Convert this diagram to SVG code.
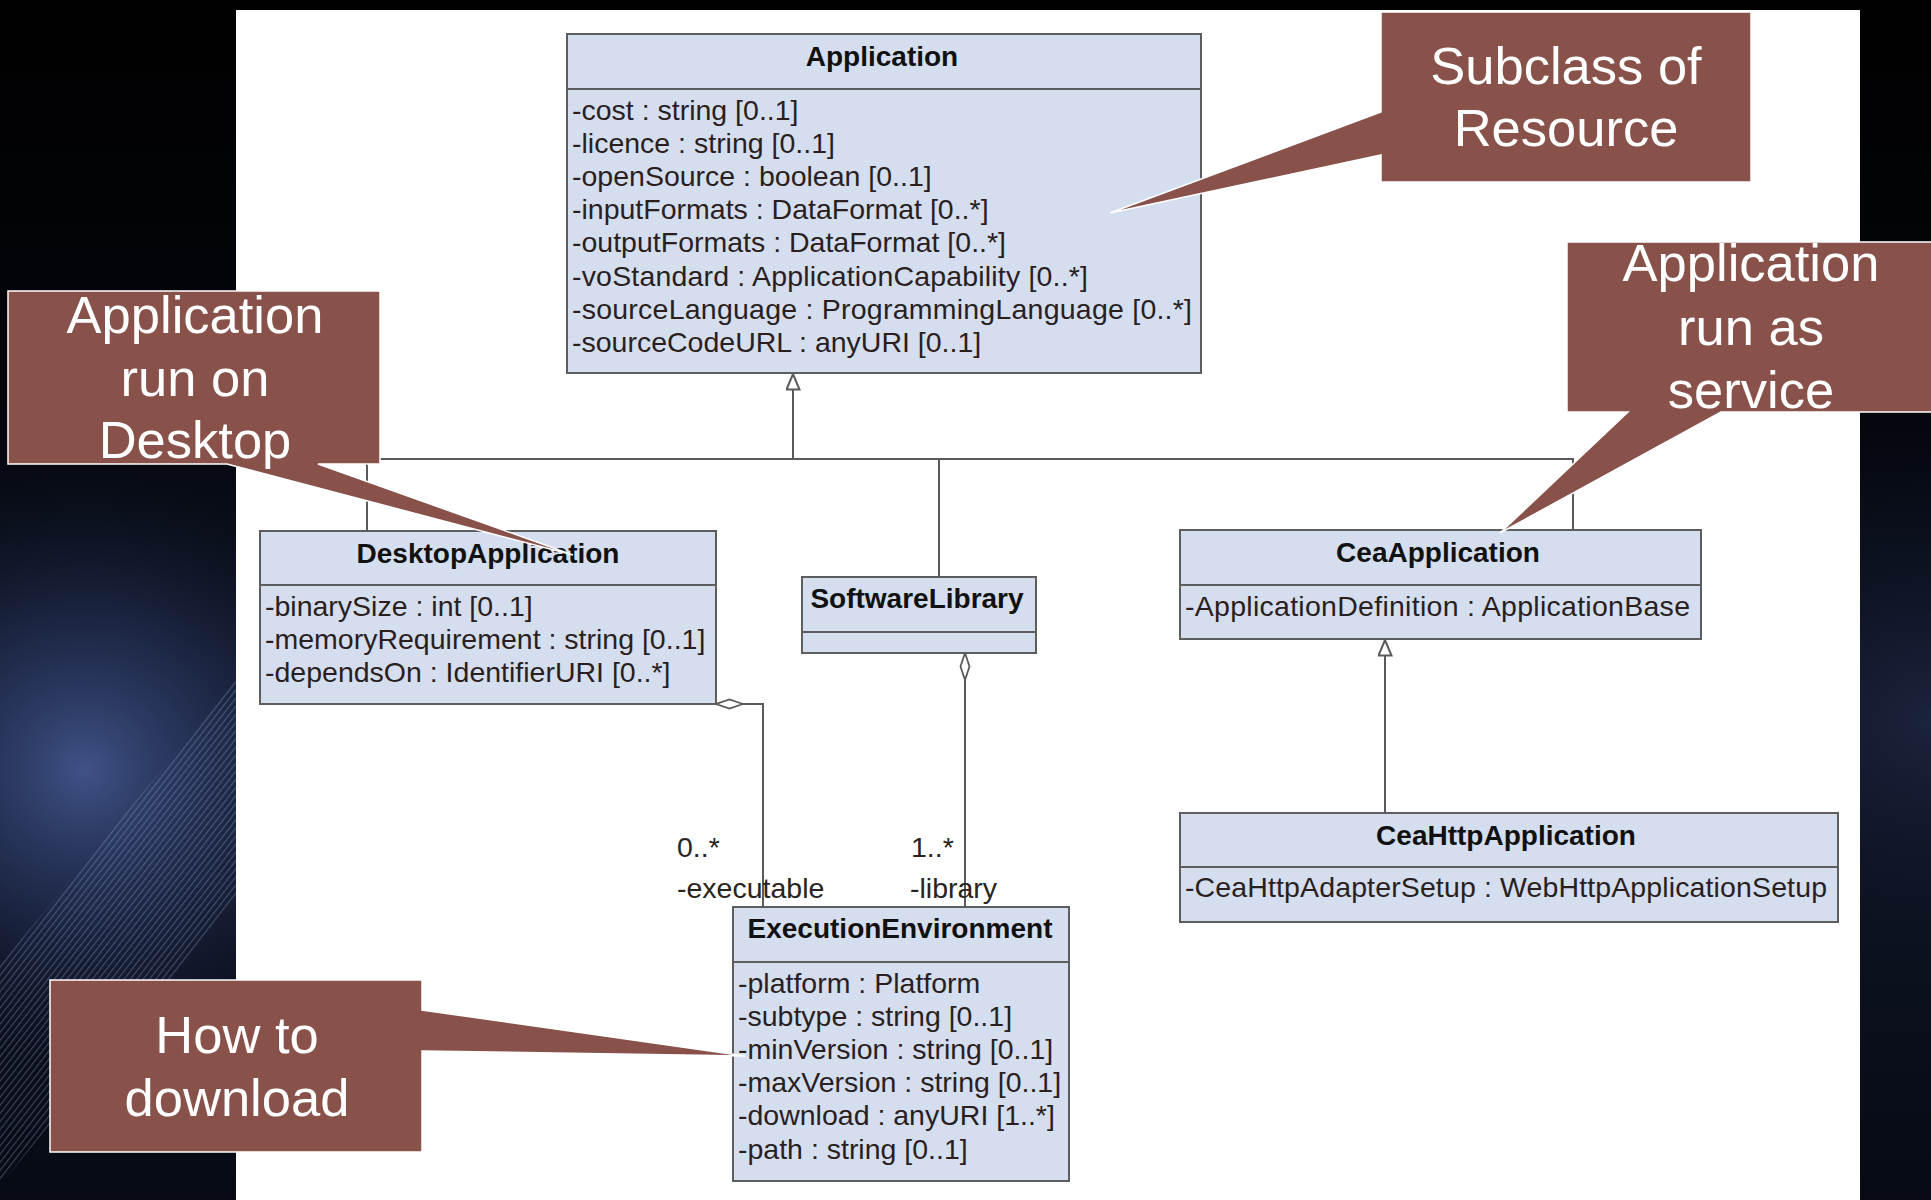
<svg xmlns="http://www.w3.org/2000/svg" width="1931" height="1200" viewBox="0 0 1931 1200">
  <style>
    .cls { fill: #d5deee; stroke: #5e5e5e; stroke-width: 2; }
    .sep { stroke: #5e5e5e; stroke-width: 2; }
    .title { font-family: "Liberation Sans", Arial, sans-serif; font-weight: bold; font-size: 28px; fill: #111111; text-anchor: middle; }
    .attr { font-family: "Liberation Sans", Arial, sans-serif; font-size: 28.5px; fill: #2a1e1e; }
    .role { font-family: "Liberation Sans", Arial, sans-serif; font-size: 28.5px; fill: #2a2420; }
    .conn { fill: none; stroke: #5a5a5a; stroke-width: 2; }
    .note { fill: #88524a; stroke: #ffffff; stroke-width: 1.5; }
    .note-text { font-family: "Liberation Sans", Arial, sans-serif; font-size: 52.5px; fill: #ffffff; text-anchor: middle; }
  </style>
  <defs>
    <linearGradient id="bgShade" x1="0" y1="0" x2="0" y2="1">
      <stop offset="0" stop-color="#000000"/>
      <stop offset="0.35" stop-color="#05070e"/>
      <stop offset="0.6" stop-color="#111829"/>
      <stop offset="1" stop-color="#070a14"/>
    </linearGradient>
    <radialGradient id="glowLeft" cx="85" cy="770" r="300" gradientUnits="userSpaceOnUse">
      <stop offset="0" stop-color="#42558c" stop-opacity="0.95"/>
      <stop offset="0.5" stop-color="#26335a" stop-opacity="0.6"/>
      <stop offset="1" stop-color="#121a30" stop-opacity="0"/>
    </radialGradient>
    <radialGradient id="glowRight" cx="1931" cy="720" r="260" gradientUnits="userSpaceOnUse">
      <stop offset="0" stop-color="#1c2540" stop-opacity="0.9"/>
      <stop offset="1" stop-color="#0b1020" stop-opacity="0"/>
    </radialGradient>
    <pattern id="stripes" width="12" height="5" patternUnits="userSpaceOnUse" patternTransform="rotate(-52)">
      <rect x="0" y="0" width="12" height="1.2" fill="#9fb4e0"/>
    </pattern>
    <marker id="gen" viewBox="0 0 17 15" refX="16.5" refY="7.5" markerWidth="17" markerHeight="15" markerUnits="userSpaceOnUse" orient="auto">
      <path d="M1,1 L16.5,7.5 L1,14 Z" fill="#ffffff" stroke="#5a5a5a" stroke-width="2"/>
    </marker>
    <marker id="agg" viewBox="0 0 28 12" refX="0.5" refY="6" markerWidth="28" markerHeight="12" markerUnits="userSpaceOnUse" orient="auto">
      <path d="M0.5,6 L14,1.5 L27.5,6 L14,10.5 Z" fill="#ffffff" stroke="#5a5a5a" stroke-width="1.8"/>
    </marker>
  </defs>

  <!-- slide background -->
  <g id="background">
    <rect x="0" y="0" width="1931" height="1200" fill="url(#bgShade)"/>
    <rect x="0" y="400" width="400" height="800" fill="url(#glowLeft)"/>
    <rect x="1800" y="400" width="131" height="800" fill="url(#glowRight)"/>
    <polygon points="236,680 236,900 0,1185 0,965" fill="url(#stripes)" opacity="0.32"/>
    <rect x="236" y="10" width="1624" height="1190" fill="#ffffff"/>
  </g>

  <!-- classes -->
  <g id="Application">
    <rect class="cls" x="567" y="34" width="634" height="339"/>
    <line class="sep" x1="567" y1="89" x2="1201" y2="89"/>
    <text class="title" x="882" y="66">Application</text>
    <text class="attr" x="572" y="119.5">-cost : string [0..1]</text>
    <text class="attr" x="572" y="152.7">-licence : string [0..1]</text>
    <text class="attr" x="572" y="185.9">-openSource : boolean [0..1]</text>
    <text class="attr" x="572" y="219.1">-inputFormats : DataFormat [0..*]</text>
    <text class="attr" x="572" y="252.3">-outputFormats : DataFormat [0..*]</text>
    <text class="attr" x="572" y="285.5" textLength="516" lengthAdjust="spacing">-voStandard : ApplicationCapability [0..*]</text>
    <text class="attr" x="572" y="318.7" textLength="620" lengthAdjust="spacing">-sourceLanguage : ProgrammingLanguage [0..*]</text>
    <text class="attr" x="572" y="351.9">-sourceCodeURL : anyURI [0..1]</text>
  </g>

  <g id="DesktopApplication">
    <rect class="cls" x="260" y="531" width="456" height="173"/>
    <line class="sep" x1="260" y1="585" x2="716" y2="585"/>
    <text class="title" x="488" y="563">DesktopApplication</text>
    <text class="attr" x="265" y="615.5">-binarySize : int [0..1]</text>
    <text class="attr" x="265" y="648.7">-memoryRequirement : string [0..1]</text>
    <text class="attr" x="265" y="681.9">-dependsOn : IdentifierURI [0..*]</text>
  </g>

  <g id="SoftwareLibrary">
    <rect class="cls" x="802" y="577" width="234" height="76"/>
    <line class="sep" x1="802" y1="632" x2="1036" y2="632"/>
    <text class="title" x="917" y="608">SoftwareLibrary</text>
  </g>

  <g id="CeaApplication">
    <rect class="cls" x="1180" y="530" width="521" height="109"/>
    <line class="sep" x1="1180" y1="585" x2="1701" y2="585"/>
    <text class="title" x="1438" y="562">CeaApplication</text>
    <text class="attr" x="1185" y="615.5" textLength="505" lengthAdjust="spacing">-ApplicationDefinition : ApplicationBase</text>
  </g>

  <g id="CeaHttpApplication">
    <rect class="cls" x="1180" y="813" width="658" height="109"/>
    <line class="sep" x1="1180" y1="867" x2="1838" y2="867"/>
    <text class="title" x="1506" y="845">CeaHttpApplication</text>
    <text class="attr" x="1185" y="897" textLength="642" lengthAdjust="spacing">-CeaHttpAdapterSetup : WebHttpApplicationSetup</text>
  </g>

  <g id="ExecutionEnvironment">
    <rect class="cls" x="733" y="907" width="336" height="274"/>
    <line class="sep" x1="733" y1="962" x2="1069" y2="962"/>
    <text class="title" x="900" y="938">ExecutionEnvironment</text>
    <text class="attr" x="738" y="992.5">-platform : Platform</text>
    <text class="attr" x="738" y="1025.7">-subtype : string [0..1]</text>
    <text class="attr" x="738" y="1058.9">-minVersion : string [0..1]</text>
    <text class="attr" x="738" y="1092.1">-maxVersion : string [0..1]</text>
    <text class="attr" x="738" y="1125.3">-download : anyURI [1..*]</text>
    <text class="attr" x="738" y="1158.5">-path : string [0..1]</text>
  </g>

  <!-- relationships -->
  <g id="connectors">
    <path class="conn" d="M367,531 V459 H1573 V530"/>
    <path class="conn" d="M939,577 V459"/>
    <path class="conn" d="M793,459 V374" marker-end="url(#gen)"/>
    <path class="conn" d="M1385,813 V640" marker-end="url(#gen)"/>
    <path class="conn" d="M716,704 H763 V907" marker-start="url(#agg)"/>
    <path class="conn" d="M965,653 V907" marker-start="url(#agg)"/>
    <text class="role" x="677" y="857">0..*</text>
    <text class="role" x="677" y="898">-executable</text>
    <text class="role" x="911" y="857">1..*</text>
    <text class="role" x="910" y="898">-library</text>
  </g>

  <!-- callout notes -->
  <g id="note-resource">
    <path class="note" d="M1381,12 H1751 V182 H1381 V155 L1110,213 L1381,112 Z"/>
    <text class="note-text" x="1566" y="84">Subclass of</text>
    <text class="note-text" x="1566" y="146">Resource</text>
  </g>

  <g id="note-desktop">
    <path class="note" d="M8,291 H380 V464 H318 L573,555 L227,464 H8 Z"/>
    <text class="note-text" x="195" y="333">Application</text>
    <text class="note-text" x="195" y="396">run on</text>
    <text class="note-text" x="195" y="458">Desktop</text>
  </g>

  <g id="note-service">
    <path class="note" d="M1567,242 H1945 V412 H1721 L1500,533 L1628,412 H1567 Z"/>
    <text class="note-text" x="1751" y="281">Application</text>
    <text class="note-text" x="1751" y="345">run as</text>
    <text class="note-text" x="1751" y="408">service</text>
  </g>

  <g id="note-download">
    <path class="note" d="M50,980 H422 V1010 L745,1056 L422,1051 V1152 H50 Z"/>
    <text class="note-text" x="237" y="1053">How to</text>
    <text class="note-text" x="237" y="1116">download</text>
  </g>
</svg>
